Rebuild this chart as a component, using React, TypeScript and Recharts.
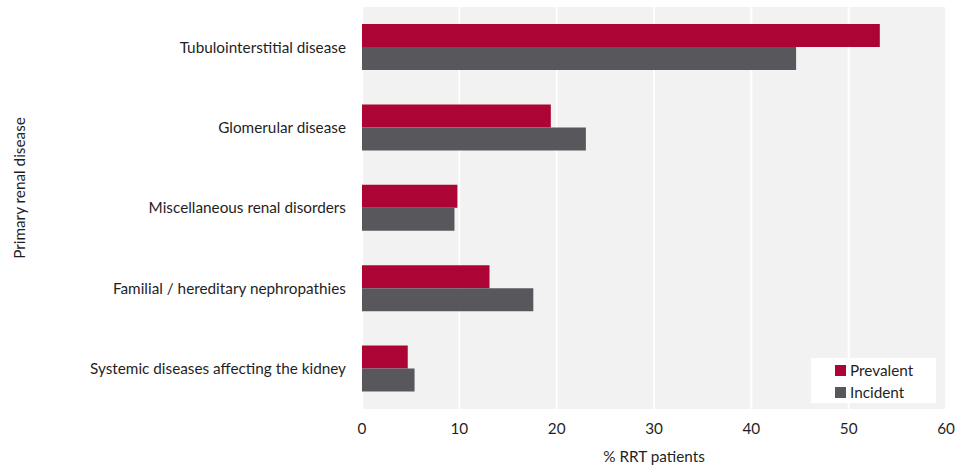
import { BarChart, Bar, XAxis, YAxis, CartesianGrid } from 'recharts';

const categories = [
  'Tubulointerstitial disease',
  'Glomerular disease',
  'Miscellaneous renal disorders',
  'Familial / hereditary nephropathies',
  'Systemic diseases affecting the kidney',
];
const prevalent = [53.2, 19.4, 9.8, 13.1, 4.7];
const incident = [44.6, 23.0, 9.5, 17.6, 5.4];
const xTicks = [0, 10, 20, 30, 40, 50, 60];

const data = categories.map((name, i) => ({ name, Prevalent: prevalent[i], Incident: incident[i] }));

const FONT = 'Lato, "Open Sans", sans-serif';
const FS = 15.3;
const TEXT = '#1f1f1f';
const RED = '#ac0535';
const GREY = '#58585c';

function LegendBox() {
  const items = [
    { label: 'Prevalent', color: RED },
    { label: 'Incident', color: GREY },
  ];
  return (
    <div style={{ position: 'absolute', left: 811, top: 358, background: '#fff', width: 125, height: 45, boxSizing: 'border-box', padding: '1px 0 0 24px', fontFamily: FONT, fontSize: FS, color: TEXT }}>
      {items.map((it) => (
        <div key={it.label} style={{ display: 'flex', alignItems: 'center', height: 22 }}>
          <span style={{ width: 11, height: 11, background: it.color, marginRight: 4, display: 'inline-block' }} />
          <span>{it.label}</span>
        </div>
      ))}
    </div>
  );
}

export default function App() {
  return (
    <div style={{ position: 'absolute', left: 0, top: 0, width: 959, height: 466, background: '#fff' }}>
      <BarChart
        width={959}
        height={466}
        data={data}
        layout="vertical"
        margin={{ top: 7, right: 13, bottom: 0, left: 0 }}
        barGap={0}
        barSize={23}
      >
        <CartesianGrid horizontal={false} vertical stroke="#ffffff" strokeWidth={2} fill="#f2f2f2" />
        <XAxis
          type="number"
          domain={[0, 60]}
          ticks={xTicks}
          height={57}
          axisLine={false}
          tickLine={false}
          tickSize={0}
          tickMargin={14}
          tick={{ fill: TEXT, fontSize: FS, fontFamily: FONT }}
          label={{ value: '% RRT patients', position: 'insideBottom', offset: 4, fill: TEXT, fontSize: FS, fontFamily: FONT }}
        />
        <YAxis
          type="category"
          dataKey="name"
          width={362}
          axisLine={false}
          tickLine={false}
          tickSize={0}
          tickMargin={16}
          tick={{ fill: TEXT, fontSize: FS, fontFamily: FONT }}
          label={{
            content: () => (
              <text x={19} y={188} transform="rotate(-90 19 188)" textAnchor="middle" dominantBaseline="central" fill={TEXT} fontSize={FS} fontFamily={FONT}>
                Primary renal disease
              </text>
            ),
          }}
        />
        <Bar dataKey="Prevalent" fill={RED} isAnimationActive={false} />
        <Bar dataKey="Incident" fill={GREY} isAnimationActive={false} />
      </BarChart>
      <LegendBox />
    </div>
  );
}
